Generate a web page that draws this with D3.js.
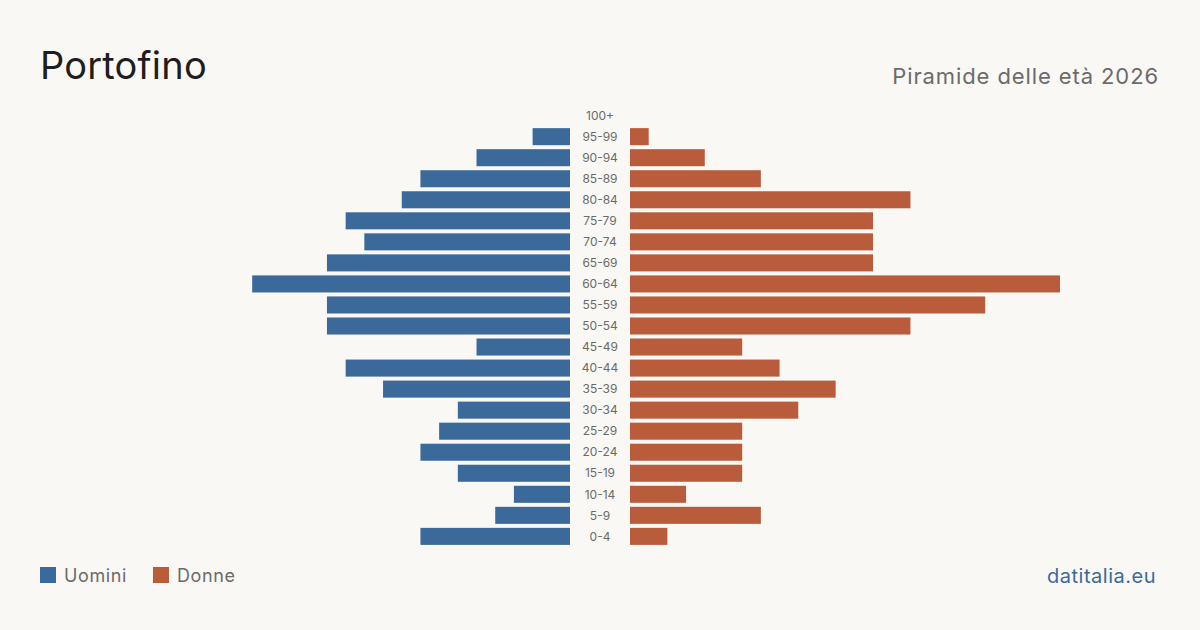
<!DOCTYPE html>
<html lang="it">
<head>
<meta charset="utf-8">
<script src="https://cdn.jsdelivr.net/npm/d3@7"></script>
<style>
  body { margin: 0; background: #f9f8f4; }
  svg { display: block; }
  text { font-family: Inter, "Noto Sans", sans-serif; }
</style>
</head>
<body>
<svg id="chart" width="1200" height="630"></svg>
<script>
// fasce d'età, dall'alto verso il basso
var ages = ["100+","95-99","90-94","85-89","80-84","75-79","70-74","65-69","60-64","55-59",
            "50-54","45-49","40-44","35-39","30-34","25-29","20-24","15-19","10-14","5-9","0-4"];
var men   = [0, 2, 5, 8, 9, 12, 11, 13, 17, 13, 13, 5, 12, 10, 6, 7, 8, 6, 3, 4, 8];
var women = [0, 1, 4, 7, 15, 13, 13, 13, 23, 19, 15, 6, 8, 11, 9, 6, 6, 6, 3, 7, 2];

var width = 1200, height = 630;
var blue = "#3b6a9a", orange = "#b95c3c";
var svg = d3.select("#chart");

svg.append("rect").attr("width", width).attr("height", height).attr("fill", "#f9f8f4");

// titolo
svg.append("text").attr("x", 40).attr("y", 79)
  .attr("font-size", 38).attr("letter-spacing", 0.2).attr("fill", "#1e1e1e").text("Portofino");
svg.append("text").attr("x", 1159).attr("y", 84).attr("text-anchor", "end")
  .attr("font-size", 22).attr("letter-spacing", 0.9).attr("fill", "#6b6b6b").text("Piramide delle età 2026");

var maxV = d3.max(men.concat(women));
var y = d3.scaleBand().domain(ages).range([105, 547]).paddingInner(0.19).paddingOuter(0.1);

// scale: metà sinistra e metà destra
var xL = d3.scaleLinear().domain([0, maxV]).range([570, 140]);
var xR = d3.scaleLinear().domain([0, maxV]).range([630, 1060]);

svg.selectAll("rect.m").data(ages).enter().append("rect")
  .attr("class", "m")
  .attr("x", function(d, i) { return xL(men[i]); })
  .attr("y", function(d) { return y(d); })
  .attr("width", function(d, i) { return xL(0) - xL(men[i]); })
  .attr("height", y.bandwidth())
  .attr("fill", blue);

svg.selectAll("rect.f").data(ages).enter().append("rect")
  .attr("class", "f")
  .attr("x", xR(0))
  .attr("y", function(d) { return y(d); })
  .attr("width", function(d, i) { return xR(women[i]) - xR(0); })
  .attr("height", y.bandwidth())
  .attr("fill", orange);

svg.selectAll("text.age").data(ages).enter().append("text")
  .attr("class", "age")
  .attr("x", 600)
  .attr("y", function(d) { return y(d) + y.bandwidth() / 2; })
  .attr("dy", "0.35em")
  .attr("text-anchor", "middle")
  .attr("font-size", 12)
  .attr("fill", "#6b6b6b")
  .text(function(d) { return d; });

// legenda
var legend = [{ name: "Uomini", color: blue, x: 40 }, { name: "Donne", color: orange, x: 153 }];
var lg = svg.selectAll("g.leg").data(legend).enter().append("g")
  .attr("transform", function(d) { return "translate(" + d.x + ",567)"; });
lg.append("rect").attr("width", 16).attr("height", 16).attr("fill", function(d) { return d.color; });
lg.append("text").attr("x", 24).attr("y", 15).attr("font-size", 18).attr("letter-spacing", 0.6)
  .attr("fill", "#6b6b6b")
  .text(function(d) { return d.name; });

svg.append("text").attr("x", 1156).attr("y", 583).attr("text-anchor", "end")
  .attr("font-size", 20).attr("letter-spacing", 0.5).attr("fill", "#3b6a9a").text("datitalia.eu");
</script>
</body>
</html>
